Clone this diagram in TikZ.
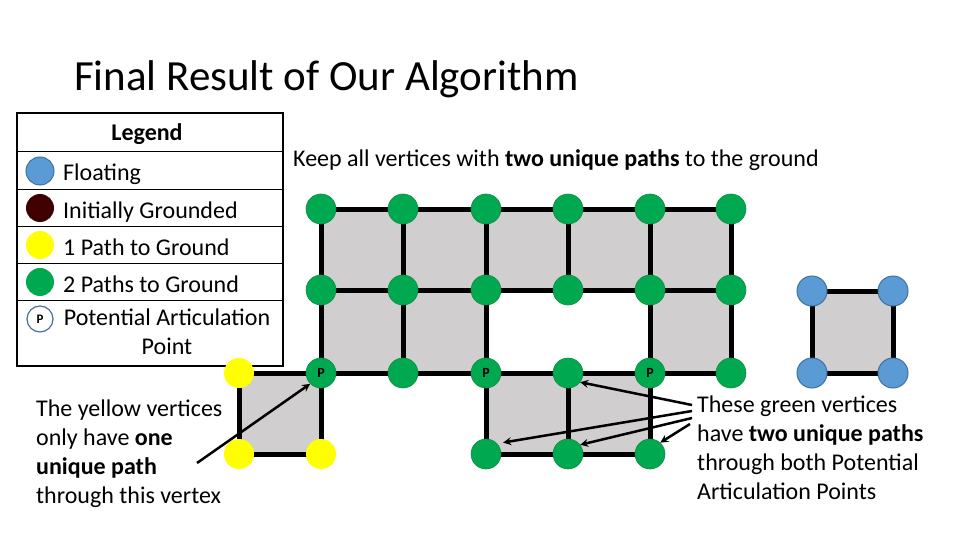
\documentclass[tikz,border=0pt]{standalone}
\usepackage{fontspec}
\setmainfont{Carlito}
\usetikzlibrary{backgrounds}

\definecolor{vgreen}{RGB}{0,168,80}
\definecolor{vgreenedge}{RGB}{20,140,70}
\definecolor{fblue}{RGB}{91,155,213}
\definecolor{fblueedge}{RGB}{65,113,156}
\definecolor{ground}{RGB}{64,0,0}
\definecolor{pyellow}{RGB}{255,255,0}
\definecolor{cellgrey}{RGB}{208,206,206}

\tikzset{
  vtx/.style={circle, minimum size=30pt, inner sep=0pt, font=\fontsize{14}{14}\selectfont\bfseries},
  gv/.style={vtx, fill=vgreen, draw=vgreenedge, line width=0.6pt},
  yv/.style={vtx, fill=pyellow},
  bv/.style={vtx, fill=fblue, draw=fblueedge, line width=1pt},
  lgd/.style={circle, minimum size=28pt, inner sep=0pt},
  link/.style={line width=5pt},
  arr/.style={->, line width=2.5pt},
  txt/.style={inner sep=0pt, font=\fontsize{24}{29}\selectfont}
}

\begin{document}
\begin{tikzpicture}[x=1pt, y=-1pt, >=stealth]
  \useasboundingbox (0,0) rectangle (960,540);

  % Title
  \node[txt, anchor=base west, font=\fontsize{43}{50}\selectfont] (title) at (74,91) {Final Result of Our Algorithm};

  % Legend
  \draw[line width=1.5pt] (17,113) rectangle (283,366);
  \foreach \y in {151,189,226,263,300}
    \draw[line width=0.8pt] (17,\y) -- (283,\y);
  \node[txt, anchor=base, font=\fontsize{24}{29}\selectfont\bfseries] (lgtitle) at (147,141) {Legend};
  \node[lgd, fill=fblue, draw=fblueedge, line width=1pt] (lg1) at (40,171) {};
  \node[lgd, fill=ground] (lg2) at (40,208) {};
  \node[lgd, fill=pyellow] (lg3) at (40,245) {};
  \node[lgd, fill=vgreen] (lg4) at (40,282) {};
  \node[lgd, fill=white, draw=fblueedge, line width=1.2pt, minimum size=26pt,
        font=\fontsize{13}{13}\selectfont\bfseries] (lg5) at (40,319) {P};
  \foreach \i/\t in {1/Floating, 2/Initially Grounded, 3/1 Path to Ground, 4/2 Paths to Ground}
    \node[txt, anchor=base west] (lt\i) at ([shift={(23,10)}]lg\i.center) {\t};
  \node[txt, align=center, anchor=north] (lt5) at (167,309) {Potential Articulation\\Point};

  % Grid vertices
  \foreach \c/\x in {1/321,2/403,3/486,4/568,5/650,6/731} {
    \node[gv] (v1\c) at (\x,209) {};
    \node[gv] (v2\c) at (\x,290) {};
  }
  \foreach \c/\x/\t in {1/321/P,2/403/{},3/486/P,4/568/{},5/650/P,6/731/{}}
    \node[gv] (v3\c) at (\x,373) {\t};
  \foreach \c/\x in {3/486,4/568,5/650}
    \node[gv] (b\c) at (\x,454) {};

  % yellow corner
  \node[yv] (y1) at (239,373) {};
  \node[yv] (y2) at (239,454) {};
  \node[yv] (y3) at (321,454) {};

  % floating square
  \node[bv] (f1) at (812,291) {};
  \node[bv] (f2) at (893,291) {};
  \node[bv] (f3) at (812,373) {};
  \node[bv] (f4) at (893,373) {};

  % faces and edges go under the vertices
  \begin{scope}[on background layer]
    \fill[cellgrey] (v11.center) rectangle (v26.center);
    \fill[cellgrey] (v21.center) rectangle (v33.center);
    \fill[cellgrey] (v25.center) rectangle (v36.center);
    \fill[cellgrey] (y1.center) rectangle (y3.center);
    \fill[cellgrey] (v33.center) rectangle (b5.center);
    \fill[cellgrey] (f1.center) rectangle (f4.center);
    \draw[link] (v11.center) -- (v16.center);
    \draw[link] (v21.center) -- (v26.center);
    \draw[link] (y1.center) -- (v36.center);
    \draw[link] (b3.center) -- (b5.center);
    \foreach \c in {1,...,6}
      \draw[link] (v1\c.center) -- (v2\c.center);
    \foreach \c in {1,2,3,5,6}
      \draw[link] (v2\c.center) -- (v3\c.center);
    \foreach \c in {3,4,5}
      \draw[link] (v3\c.center) -- (b\c.center);
    \draw[link] (y1.center) -- (y2.center) -- (y3.center) -- (v31.center);
    \draw[link] (f1.center) -- (f2.center) -- (f4.center) -- (f3.center) -- cycle;
  \end{scope}

  % Notes
  \node[txt, anchor=base west] (keep) at (293,167)
    {Keep all vertices with \textbf{two unique paths} to the ground};
  \node[txt, align=left, anchor=north west] (ynote) at (36,400)
    {The yellow vertices\\only have \textbf{one}\\\textbf{unique path}\\through this vertex};
  \node[txt, align=left, anchor=north west] (gnote) at (697,396)
    {These green vertices\\have \textbf{two unique paths}\\through both Potential\\Articulation Points};

  % Arrows
  \coordinate (ya) at (197,463);
  \draw[arr] (ya) -- (v31.225);
  \coordinate (ra) at (692,405);
  \coordinate (rb) at (692,411);
  \coordinate (rc) at (692,418);
  \coordinate (rd) at (690,424);
  \draw[arr] (ra) -- (v34.-37);
  \draw[arr, shorten >=6pt] (rb) -- (b3.43);
  \draw[arr] (rc) -- (b4.37);
  \draw[arr] (rd) -- (b5.48);
\end{tikzpicture}
\end{document}
